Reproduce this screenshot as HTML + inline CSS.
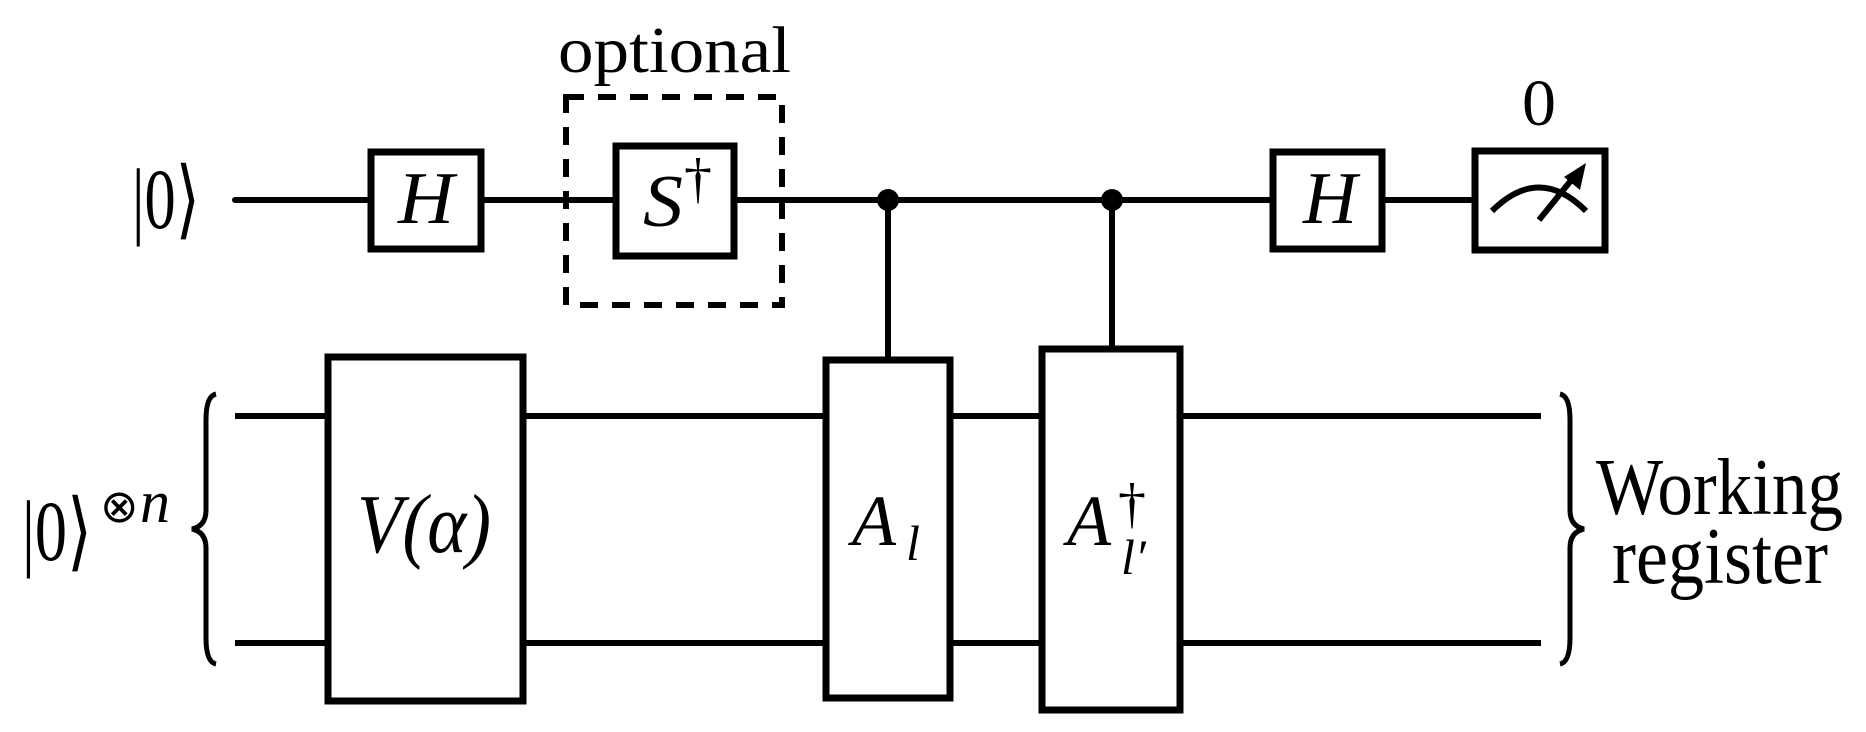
<!DOCTYPE html>
<html><head><meta charset="utf-8"><style>html,body{margin:0;padding:0;background:#fff}svg{display:block}</style></head>
<body>
<svg width="1866" height="732" viewBox="0 0 1866 732" xmlns="http://www.w3.org/2000/svg" font-family="Liberation Serif, serif">
<g stroke="#000" stroke-width="6" fill="none">
  <line x1="235" y1="200" x2="1473" y2="200" stroke-linecap="round"/>
  <line x1="235" y1="416" x2="1541" y2="416"/>
  <line x1="235" y1="643" x2="1541" y2="643"/>
  <line x1="888" y1="200" x2="888" y2="358"/>
  <line x1="1112" y1="200" x2="1112" y2="348"/>
  <rect x="566" y="97" width="216" height="208" stroke-dasharray="18 14" stroke-width="6"/>
  <rect x="371" y="152" width="110" height="97" fill="#fff" stroke-width="7"/>
  <rect x="616" y="146" width="118" height="110" fill="#fff" stroke-width="7"/>
  <rect x="1273" y="152" width="109" height="97" fill="#fff" stroke-width="7"/>
  <rect x="1475" y="151" width="130" height="99" fill="#fff" stroke-width="7"/>
  <rect x="328" y="357" width="195" height="344" fill="#fff" stroke-width="7"/>
  <rect x="826" y="360" width="124" height="338" fill="#fff" stroke-width="7"/>
  <rect x="1042" y="349" width="138" height="361" fill="#fff" stroke-width="7"/>
  <path d="M1492 211 Q1539 164 1586 211" stroke-width="6"/>
  <line x1="1539" y1="220" x2="1577" y2="173" stroke-width="6"/>
  <path d="M216 394 Q206 396 206 420 L206 510 Q206 526 192 529 Q206 532 206 548 L206 638 Q206 662 216 664" stroke-width="5"/>
  <path d="M1560 394 Q1570 396 1570 420 L1570 510 Q1570 526 1584 529 Q1570 532 1570 548 L1570 638 Q1570 662 1560 664" stroke-width="5"/>
</g>
<polygon points="1586,163 1580,190 1564,177" fill="#000"/>
<circle cx="888" cy="200" r="11" fill="#000"/>
<circle cx="1112" cy="200" r="11" fill="#000"/>
<g fill="#000" font-size="66">
  <text x="558" y="72" textLength="233" lengthAdjust="spacingAndGlyphs">optional</text>
  <text x="1522" y="125" font-size="66" textLength="34" lengthAdjust="spacingAndGlyphs">0</text>
  <text x="132" y="228" font-size="86" textLength="68" lengthAdjust="spacingAndGlyphs">|0⟩</text>
  <text x="398" y="223" font-size="74" font-style="italic" textLength="56" lengthAdjust="spacingAndGlyphs">H</text>
  <text x="1303" y="223" font-size="74" font-style="italic" textLength="54" lengthAdjust="spacingAndGlyphs">H</text>
  <text x="643" y="226" font-size="74" font-style="italic" textLength="40" lengthAdjust="spacingAndGlyphs">S</text>
  <text x="684" y="197" font-size="56">†</text>
  <text x="22" y="560" font-size="86" textLength="70" lengthAdjust="spacingAndGlyphs">|0⟩</text>
  <text x="100" y="522" font-size="46" font-weight="normal">⊗</text>
  <text x="140" y="522" font-size="60" font-style="italic">n</text>
  <text x="357" y="552" font-size="84" font-style="italic" textLength="134" lengthAdjust="spacingAndGlyphs">V(α)</text>
  <text x="852" y="545" font-size="72" font-style="italic">A</text>
  <text x="906" y="560" font-size="50" font-style="italic">l</text>
  <text x="1067" y="545" font-size="72" font-style="italic">A</text>
  <text x="1118" y="522" font-size="56">†</text>
  <text x="1121" y="574" font-size="50" font-style="italic">l′</text>
  <text x="1596" y="514" font-size="80" textLength="247" lengthAdjust="spacingAndGlyphs">Working</text>
  <text x="1612" y="583" font-size="80" textLength="216" lengthAdjust="spacingAndGlyphs">register</text>
</g>
</svg>
</body></html>
